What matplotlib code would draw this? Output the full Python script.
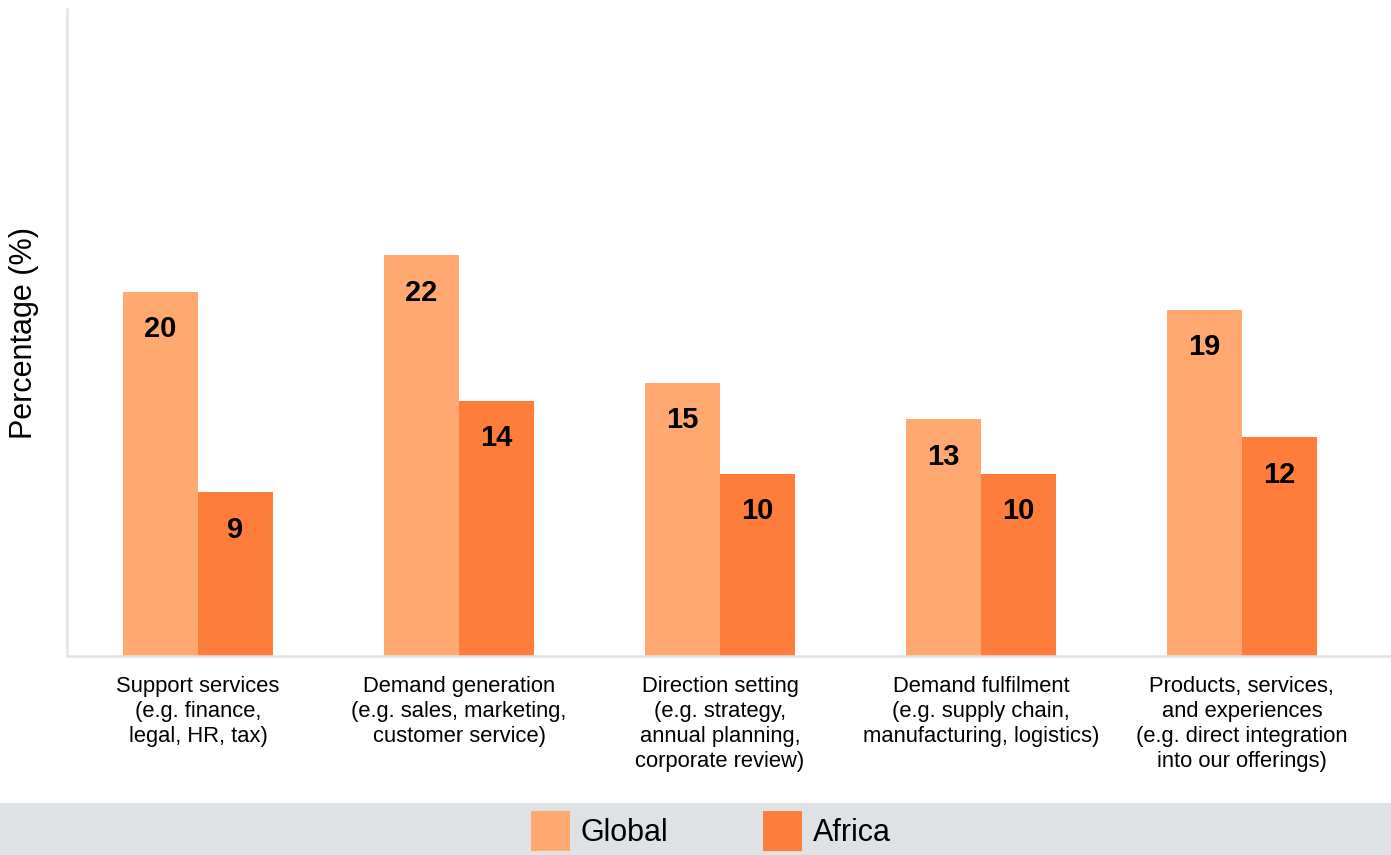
import numpy as np
import matplotlib.pyplot as plt
from matplotlib.patches import Rectangle, Patch

plt.rcParams['font.family'] = ['Liberation Sans', 'DejaVu Sans']

categories = [
    'Support services\n(e.g. finance,\nlegal, HR, tax)',
    'Demand generation\n(e.g. sales, marketing,\ncustomer service)',
    'Direction setting\n(e.g. strategy,\nannual planning,\ncorporate review)',
    'Demand fulfilment\n(e.g. supply chain,\nmanufacturing, logistics)',
    'Products, services,\nand experiences\n(e.g. direct integration\ninto our offerings)',
]
global_vals = [20, 22, 15, 13, 19]
africa_vals = [9, 14, 10, 10, 12]

c_global = '#FFA870'
c_africa = '#FF7D3B'

fig = plt.figure(figsize=(13.91, 8.55), dpi=100)
ax = fig.add_axes([0.0482, 0.2327, 0.951, 0.7567])

x = np.arange(len(categories))
w = 0.287
b1 = ax.bar(x - w / 2, global_vals, w, color=c_global, label='Global')
b2 = ax.bar(x + w / 2, africa_vals, w, color=c_africa, label='Africa')

for bars in (b1, b2):
    for r in bars:
        ax.annotate(f'{r.get_height():g}', (r.get_x() + r.get_width() / 2, r.get_height()),
                    xytext=(0, -27), textcoords='offset points',
                    ha='center', va='center', fontsize=21, fontweight='bold')

ax.set_xlim(-0.502, 4.567)
ax.set_ylim(0, 35.5)
ax.set_xticks(x)
ax.set_xticklabels(categories, fontsize=15.8, linespacing=1.25, va='top')
ax.tick_params(axis='x', length=0, pad=14.5)
ax.set_yticks([])
ax.set_ylabel('Percentage (%)', fontsize=22)
ax.yaxis.set_label_coords(-0.021, 0.5)

for s in ('top', 'right'):
    ax.spines[s].set_visible(False)
for s in ('left', 'bottom'):
    ax.spines[s].set_color('#E3E3E3')
    ax.spines[s].set_linewidth(1.8)

# grey band behind the legend
fig.patches.append(Rectangle((0, 0), 1, 52 / 855, transform=fig.transFigure,
                             facecolor='#DEE2E5', edgecolor='none', zorder=0))

handles = [Patch(facecolor=c_global, label='Global'), Patch(facecolor=c_africa, label='Africa')]
fig.legend(handles=handles, loc='center', bbox_to_anchor=(711 / 1391, 24 / 855),
           ncol=2, frameon=False, fontsize=22, handlelength=1.28, handleheight=1.6,
           handletextpad=0.35, columnspacing=3.1)

fig.savefig('out.png', dpi=100)
